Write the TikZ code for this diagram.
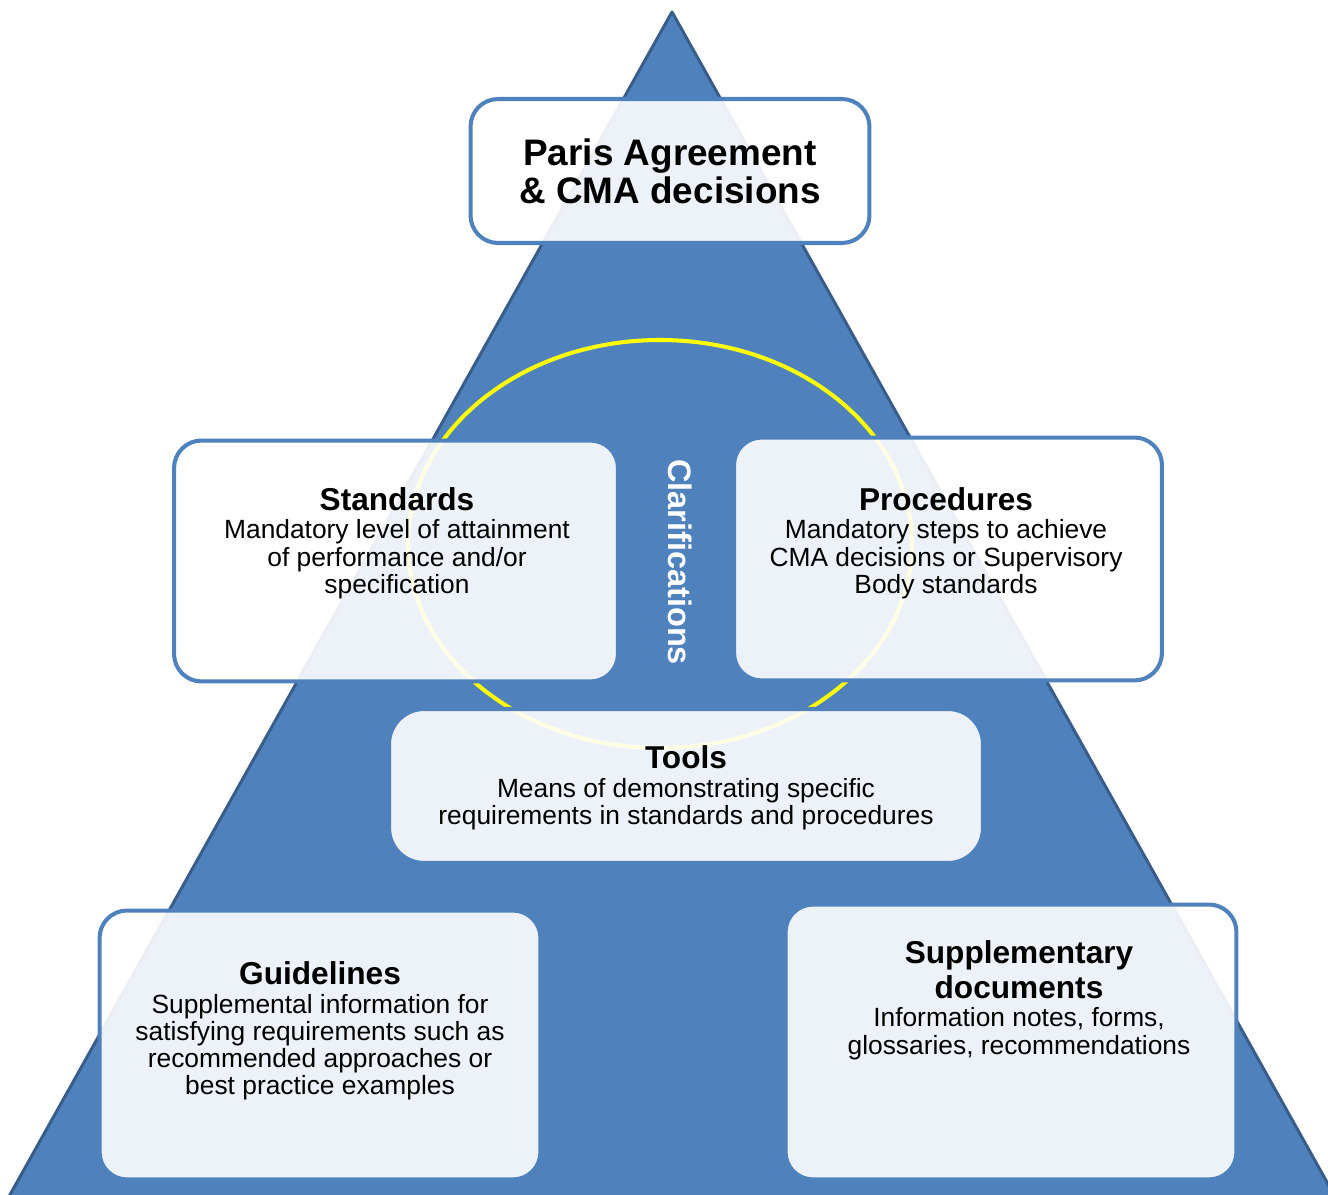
\documentclass[tikz,border=0pt]{standalone}
\usepackage{fontspec}
\setmainfont{Liberation Sans}
\usetikzlibrary{calc,shapes,positioning}

\definecolor{pyrblue}{HTML}{4F81BD}
\definecolor{pyredge}{HTML}{385D8A}
\definecolor{clarif}{HTML}{FFFF00}

\tikzset{
  layer/.style={draw=pyrblue, line width=2.3pt, fill=white, fill opacity=0.9,
    rounded corners=0.55cm, inner sep=0pt},
  desc/.style={align=center, inner sep=0pt, font=\fontsize{15}{15.5}\selectfont},
}
\newcommand{\layerhead}[1]{{\fontsize{18}{18}\selectfont\bfseries #1}}
\newcommand{\layertitle}[1]{\layerhead{#1}\\[0.8pt]}

\begin{document}
\begin{tikzpicture}[x=0.02cm, y=-0.02cm]
\useasboundingbox (0,0) rectangle (1328,1195);
\begin{scope}
\clip (0,0) rectangle (1328,1195);
% pyramid and clarification ring
\filldraw[fill=pyrblue, draw=pyredge, line width=1.7pt, line join=round]
  (672,12) -- (7,1200) -- (1337,1200) -- cycle;
\draw[clarif, line width=2.3pt] (660,544) ellipse [x radius=252, y radius=204];
\end{scope}

% the layers
\node[layer, minimum width=7.98cm, minimum height=2.88cm] (paris) at (670,171) {};
\node[layer, minimum width=8.88cm, minimum height=4.82cm] (std) at (396,561) {};
\node[layer, minimum width=8.56cm, minimum height=4.86cm] (proc) at (948,559) {};
\node[layer, minimum width=11.88cm, minimum height=3.08cm, rounded corners=0.7cm] (tools) at (686,786) {};
\node[layer, minimum width=8.82cm, minimum height=5.38cm] (guide) at (320,1045) {};
\node[layer, minimum width=9.02cm, minimum height=5.5cm] (supp) at (1011,1042) {};

\node[align=center, inner sep=0pt, font=\fontsize{21}{21.6}\selectfont\bfseries] (paristxt) at (paris)
  {Paris Agreement\\ \& CMA decisions};
\node[desc] (stdtxt) at (397,543)
  {\layertitle{Standards}Mandatory level of attainment\\ of performance and/or\\ specification};
\node[desc] (proctxt) at (946,543)
  {\layertitle{Procedures}Mandatory steps to achieve\\ CMA decisions or Supervisory\\ Body standards};
\node[desc] (toolstxt) at (686,788)
  {\layertitle{Tools}Means of demonstrating specific\\ requirements in standards and procedures};
\node[desc] (guidetxt) at (320,1031)
  {\layertitle{Guidelines}Supplemental information for\\ satisfying requirements such as\\ recommended approaches or\\ best practice examples};
\node[desc] (supptxt) at (1019,1000)
  {\layerhead{Supplementary}\\[2pt]\layertitle{documents}Information notes, forms,\\ glossaries, recommendations};

\node[rotate=-90, text=white, inner sep=0pt, font=\fontsize{18.5}{18.5}\selectfont\bfseries] (clar) at (680,562) {Clarifications};
\end{tikzpicture}
\end{document}
